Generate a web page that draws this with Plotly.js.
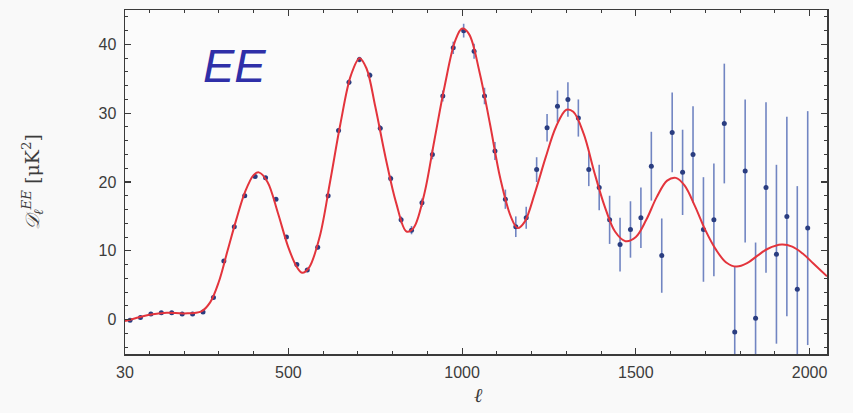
<!DOCTYPE html>
<html>
<head>
<meta charset="utf-8">
<script src="https://cdn.plot.ly/plotly-3.0.1.min.js"></script>
<style>html,body{margin:0;padding:0;background:#f9f9f9;}#chart{width:853px;height:413px;}</style>
</head>
<body>
<div id="chart"></div>
<script>
// Theory curve
const curveEll = [30,60,100,150,200,250,275,300,325,350,375,400,415,440,470,500,525,540,560,590,620,650,680,705,725,750,780,810,840,860,890,920,950,980,1000,1020,1050,1080,1110,1140,1160,1180,1210,1240,1270,1300,1320,1350,1380,1410,1440,1470,1500,1530,1560,1590,1615,1640,1670,1700,1730,1760,1790,1820,1850,1880,1920,1950,1980,2010,2050];
const curveD = [-0.2,0.2,0.7,1.0,0.9,1.2,2.5,5.5,10,14.5,18.5,21,21.4,20,15.5,10.5,7.6,6.8,7.6,12,20,28.5,35.5,38,36.5,31,23.5,17,12.8,13.3,18,26,34,40.5,42.3,41.5,36,28.5,20.5,15,13.3,14.2,18.5,23.5,28,30.5,30.2,27,21.5,16.5,12.8,11.4,12,14.5,17.8,20.2,20.6,19.5,16.5,13,10.2,8.3,7.7,8.2,9.3,10.3,10.9,10.6,9.6,8.2,6.3];

// Binned data points
const binEll = [44.5,74.5,104.5,134.5,164.5,194.5,224.5,254.5,284.5,314.5,344.5,374.5,404.5,434.5,464.5,494.5,524.5,554.5,584.5,614.5,644.5,674.5,704.5,734.5,764.5,794.5,824.5,854.5,884.5,914.5,944.5,974.5,1004.5,1034.5,1064.5,1094.5,1124.5,1154.5,1184.5,1214.5,1244.5,1274.5,1304.5,1334.5,1364.5,1394.5,1424.5,1454.5,1484.5,1514.5,1544.5,1574.5,1604.5,1634.5,1664.5,1694.5,1724.5,1754.5,1784.5,1814.5,1844.5,1874.5,1904.5,1934.5,1964.5,1994.5];
const binD = [-0.1,0.3,0.8,1.0,1.0,0.8,0.8,1.1,3.2,8.5,13.5,18.0,20.8,20.6,17.5,12.0,8.0,7.2,10.5,18.0,27.5,34.5,37.8,35.5,27.8,20.5,14.5,13.0,17.0,24.0,32.5,39.5,42.0,39.0,32.5,24.5,17.5,13.5,14.8,21.8,27.9,31.0,32.0,29.3,21.8,19.2,14.5,10.9,13.1,14.8,22.3,9.3,27.2,21.4,24.0,13.1,14.5,28.5,-1.8,21.6,0.2,19.2,9.5,15.0,4.4,13.3];
const binErr = [0.15,0.15,0.15,0.15,0.15,0.15,0.15,0.15,0.2,0.2,0.2,0.25,0.25,0.25,0.25,0.25,0.3,0.3,0.3,0.35,0.35,0.4,0.4,0.4,0.45,0.45,0.5,0.6,0.6,0.7,0.8,0.9,1.0,1.1,1.2,1.3,1.4,1.5,1.6,1.8,2.0,2.3,2.5,2.7,2.4,3.3,3.5,3.9,4.1,4.4,5.0,5.4,5.8,6.2,7.0,7.6,8.2,8.7,9.5,10.4,11.0,12.4,13.0,14.5,15.0,17.0];

const xTicks = [30,500,1000,1500,2000];
const xTickText = ['30','500','1000','1500','2000'];
const yTicks = [0,10,20,30,40];

const traces = [
  {
    x: binEll, y: binD, type: 'scatter', mode: 'markers',
    marker: {color: '#2a3d80', size: 5},
    error_y: {type: 'data', array: binErr, visible: true, color: '#7185c2', thickness: 1.6, width: 0},
    showlegend: false, hoverinfo: 'skip'
  },
  {
    x: curveEll, y: curveD, type: 'scatter', mode: 'lines',
    line: {color: '#e3343c', width: 2, shape: 'spline', smoothing: 1},
    showlegend: false, hoverinfo: 'skip'
  }
];

const axisCommon = {
  showline: true, linecolor: '#3a3a3a', linewidth: 1.5, mirror: 'ticks',
  ticks: 'inside', ticklen: 6, tickwidth: 1.2, tickcolor: '#3a3a3a',
  showgrid: false, zeroline: false,
  tickfont: {family: 'Liberation Sans, Arial, sans-serif', size: 16, color: '#3c3c3c'}
};

const layout = {
  width: 853, height: 413,
  paper_bgcolor: '#f9f9f9', plot_bgcolor: '#fbfbfb',
  margin: {l: 125, r: 26, t: 10, b: 59},
  xaxis: Object.assign({}, axisCommon, {
    range: [30, 2050], tickmode: 'array', tickvals: xTicks, ticktext: xTickText,
    ticklabelstandoff: 3,
    minor: {dtick: 100, tick0: 0, ticks: 'inside', ticklen: 3, tickcolor: '#3a3a3a', tickwidth: 1}
  }),
  yaxis: Object.assign({}, axisCommon, {
    range: [-5, 45], tickmode: 'array', tickvals: yTicks,
    ticklabelstandoff: 4,
    minor: {dtick: 2, tick0: 0, ticks: 'inside', ticklen: 3, tickcolor: '#3a3a3a', tickwidth: 1}
  }),
  annotations: [
    {text: '<i>EE</i>', xref: 'paper', yref: 'paper', x: 0.156, y: 0.84, xanchor: 'center', yanchor: 'middle',
     showarrow: false, font: {family: 'Liberation Sans, Arial, sans-serif', size: 47, color: '#2f2fa8'}},
    {text: '<i>𝒟</i><sub><i>ℓ</i></sub><sup><i>EE</i></sup> [μK<sup>2</sup>]', xref: 'paper', yref: 'paper',
     x: -0.1325, y: 0.5, xanchor: 'center', yanchor: 'middle', textangle: -90, showarrow: false,
     font: {family: 'DejaVu Serif, Liberation Serif, serif', size: 19, color: '#3c3c3c'}},
    {text: '<i>ℓ</i>', xref: 'paper', yref: 'paper', x: 0.503, y: -0.119, xanchor: 'center', yanchor: 'middle',
     showarrow: false, font: {family: 'DejaVu Serif, Liberation Serif, serif', size: 20, color: '#3c3c3c'}}
  ]
};

Plotly.newPlot('chart', traces, layout, {staticPlot: true, displayModeBar: false});
</script>
</body>
</html>
